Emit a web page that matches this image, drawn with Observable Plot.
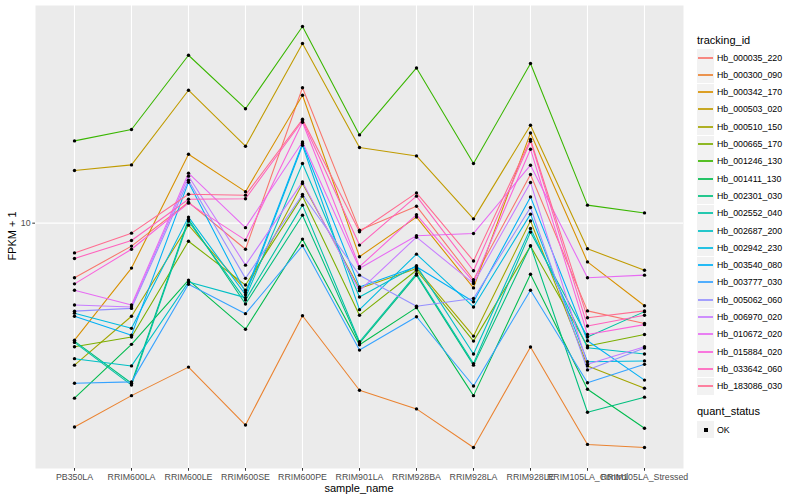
<!DOCTYPE html>
<html><head><meta charset="utf-8">
<script src="https://cdn.jsdelivr.net/npm/d3@7"></script>
<script src="https://cdn.jsdelivr.net/npm/@observablehq/plot@0.6"></script>
<style>
body{margin:0;background:#fff;font-family:"Liberation Sans",Arial,Helvetica,sans-serif;}
#wrap{position:relative;width:800px;height:500px;overflow:hidden;background:#fff;}
#wrap svg{position:absolute;left:0;top:0;}
.ttl{position:absolute;font-size:11px;color:#000;white-space:nowrap;line-height:1;}
.key{position:absolute;width:17px;height:17px;background:#F2F2F2;}
.key .ln{position:absolute;left:1px;right:1px;top:7.5px;height:2px;opacity:0.85;}
.key .pt{position:absolute;left:6.5px;top:6.5px;width:4px;height:4px;background:#000;}
.lab{position:absolute;font-size:8.8px;color:#000;white-space:nowrap;line-height:1;}
</style></head>
<body><div id="wrap"></div>
<script>
const samples = ["PB350LA","RRIM600LA","RRIM600LE","RRIM600SE","RRIM600PE","RRIM901LA","RRIM928BA","RRIM928LA","RRIM928LE","RRIM105LA_Control","RRIM105LA_Stressed"];
const ids = ["Hb_000035_220","Hb_000300_090","Hb_000342_170","Hb_000503_020","Hb_000510_150","Hb_000665_170","Hb_001246_130","Hb_001411_130","Hb_002301_030","Hb_002552_040","Hb_002687_200","Hb_002942_230","Hb_003540_080","Hb_003777_030","Hb_005062_060","Hb_006970_020","Hb_010672_020","Hb_015884_020","Hb_033642_060","Hb_183086_030"];
const colors = ["#F8766D","#EA8331","#D89000","#C09B00","#A3A500","#7CAE00","#39B600","#00BB4E","#00BF7D","#00C1A3","#00BFC4","#00BAE0","#00B0F6","#35A2FF","#9590FF","#C77CFF","#E76BF3","#FA62DB","#FF62BC","#FF6C91"];

// FPKM + 1 per sample (same order as samples)
const Hb_000035_220 = [6.38, 8.28, 11.88, 8.07, 30.47, 9.44, 11.50, 6.28, 14.93, 4.86, 4.38];
const Hb_000300_090 = [1.87, 2.42, 3.06, 1.90, 4.67, 2.53, 2.17, 1.58, 3.61, 1.62, 1.58];
const Hb_000342_170 = [3.82, 6.91, 17.64, 12.96, 28.65, 7.59, 10.51, 5.87, 21.01, 7.27, 5.07];
const Hb_000503_020 = [15.42, 16.15, 29.85, 18.84, 43.83, 18.64, 17.39, 10.36, 22.39, 8.10, 6.79];
const Hb_000510_150 = [3.11, 4.65, 9.84, 5.76, 13.86, 5.84, 6.89, 3.95, 10.19, 3.09, 2.57];
const Hb_000665_170 = [3.62, 3.92, 8.62, 6.01, 12.49, 4.69, 6.79, 3.79, 8.28, 3.64, 4.00];
const Hb_001246_130 = [19.68, 21.61, 39.81, 25.64, 50.41, 20.67, 35.86, 16.34, 37.19, 11.60, 10.88];
const Hb_001411_130 = [2.37, 3.69, 6.26, 4.18, 8.77, 3.68, 4.99, 2.42, 6.57, 2.55, 1.85];
const Hb_002301_030 = [3.79, 2.68, 10.33, 5.14, 10.68, 3.73, 6.52, 3.11, 8.31, 2.11, 2.39];
const Hb_002552_040 = [3.75, 2.64, 10.17, 5.31, 11.60, 3.77, 6.60, 3.15, 9.29, 3.92, 4.83];
const Hb_002687_200 = [3.28, 3.09, 6.16, 5.42, 16.34, 5.45, 7.05, 3.41, 9.57, 3.59, 3.41];
const Hb_002942_230 = [4.77, 4.21, 10.51, 5.55, 18.99, 4.91, 7.75, 5.02, 10.77, 3.20, 3.22];
const Hb_003540_080 = [4.65, 3.98, 14.01, 5.65, 19.26, 5.92, 6.99, 5.24, 12.41, 3.80, 2.75];
const Hb_003777_030 = [2.68, 2.71, 6.05, 4.75, 8.31, 3.52, 4.63, 2.62, 5.76, 2.69, 3.13];
const Hb_005062_060 = [4.85, 4.96, 14.24, 6.35, 12.66, 6.52, 5.05, 5.38, 11.38, 2.99, 3.58];
const Hb_006970_020 = [5.10, 5.02, 14.72, 7.08, 14.04, 5.74, 8.91, 6.09, 13.98, 3.13, 3.62];
const Hb_010672_020 = [5.76, 5.10, 15.09, 9.64, 19.51, 6.89, 9.02, 9.19, 16.11, 6.38, 6.52];
const Hb_015884_020 = [6.07, 8.07, 11.79, 8.70, 22.95, 6.99, 10.72, 6.17, 18.38, 4.00, 4.34];
const Hb_033642_060 = [7.48, 8.67, 12.18, 12.23, 23.23, 8.35, 12.49, 6.76, 19.63, 4.29, 4.69];
const Hb_183086_030 = [7.83, 9.21, 12.69, 12.59, 23.52, 9.32, 12.83, 7.33, 19.90, 4.59, 4.86];

const seriesValues = [Hb_000035_220, Hb_000300_090, Hb_000342_170, Hb_000503_020, Hb_000510_150, Hb_000665_170, Hb_001246_130, Hb_001411_130, Hb_002301_030, Hb_002552_040, Hb_002687_200, Hb_002942_230, Hb_003540_080, Hb_003777_030, Hb_005062_060, Hb_006970_020, Hb_010672_020, Hb_015884_020, Hb_033642_060, Hb_183086_030];
const yTicks = [10];

const rows = ids.flatMap((id, i) => samples.map((s, j) => ({id, sample: s, value: seriesValues[i][j], status: "OK"})));

// ggplot-like 5% expansion in log space
const ext = d3.extent(rows, d => d.value);
const l0 = Math.log10(ext[0]), l1 = Math.log10(ext[1]), pad = (l1 - l0) * 0.05;
const yDomain = [10 ** (l0 - pad), 10 ** (l1 + pad)];

const FONT = '"Liberation Sans",Arial,Helvetica,sans-serif';
const chart = Plot.plot({
  width: 690, height: 500,
  marginLeft: 35, marginRight: 7, marginTop: 5, marginBottom: 32,
  style: {fontFamily: FONT, fontSize: "8.8px", background: "transparent", overflow: "visible"},
  x: {type: "point", domain: samples, padding: 0.6, label: null},
  y: {type: "log", domain: yDomain, label: null},
  color: {domain: ids, range: colors},
  marks: [
    Plot.frame({fill: "#EBEBEB", stroke: "none"}),
    Plot.gridX(samples, {stroke: "#FFFFFF", strokeOpacity: 1, strokeWidth: 1.1}),
    Plot.gridY(yTicks, {stroke: "#FFFFFF", strokeOpacity: 1, strokeWidth: 1.1}),
    Plot.line(rows, {x: "sample", y: "value", z: "id", stroke: "id", strokeWidth: 1.07}),
    Plot.dot(rows, {x: "sample", y: "value", r: 1.7, fill: "#000", stroke: "none"}),
    Plot.axisX({tickSize: 2.75, tickPadding: 2.2, stroke: "#333333", fill: "#4D4D4D", fontSize: 8.8, label: null}),
    Plot.axisY(yTicks, {tickSize: 2.75, tickPadding: 2.2, stroke: "#333333", fill: "#4D4D4D", fontSize: 8.8, label: null, tickFormat: d => String(d)})
  ]
});

const wrap = document.getElementById("wrap");
wrap.appendChild(chart);

function add(cls, text, css) {
  const el = document.createElement("div");
  el.className = cls;
  if (text != null) el.textContent = text;
  Object.assign(el.style, css);
  wrap.appendChild(el);
  return el;
}

// axis titles
add("ttl", "sample_name", {left: "359px", top: "483px", transform: "translateX(-50%)"});
add("ttl", "FPKM + 1", {left: "12px", top: "236px", transform: "translate(-50%,-50%) rotate(-90deg)"});

// legend: tracking_id
add("ttl", "tracking_id", {left: "697px", top: "35px"});
const step = 17.3, y0 = 49;
ids.forEach((id, i) => {
  const k = add("key", null, {left: "697px", top: (y0 + i * step) + "px"});
  const ln = document.createElement("div");
  ln.className = "ln"; ln.style.backgroundColor = colors[i];
  k.appendChild(ln);
  add("lab", id, {left: "717px", top: (y0 + i * step + 4.5) + "px"});
});

// legend: quant_status
add("ttl", "quant_status", {left: "697px", top: "406px"});
const k2 = add("key", null, {left: "697px", top: "421px"});
const pt = document.createElement("div"); pt.className = "pt"; k2.appendChild(pt);
add("lab", "OK", {left: "717px", top: "425.5px"});
</script>
</body></html>
